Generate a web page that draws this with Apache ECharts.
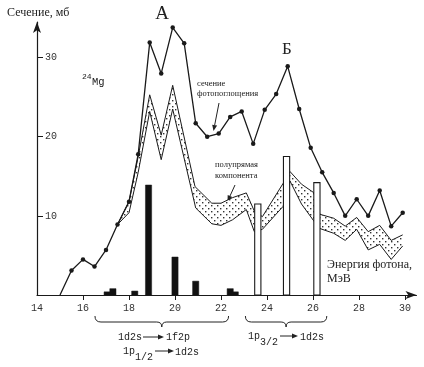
<!DOCTYPE html>
<html><head><meta charset="utf-8">
<script src="https://cdn.jsdelivr.net/npm/echarts@6/dist/echarts.min.js"></script>
<style>html,body{margin:0;padding:0;background:#fff}#c{width:424px;height:367px}</style>
</head><body><div id="c"></div>
<script>
// ---- data ----
const xTicks = [14, 16, 18, 20, 22, 24, 26, 28, 30];
const yTicks = [10, 20, 30];
// сечение фотопоглощения (мб) vs энергия фотона (МэВ)
const photoE = [15.0, 15.5, 16.0, 16.5, 17.0, 17.5, 18.0, 18.4, 18.9, 19.4, 19.9, 20.4, 20.9, 21.4, 21.9, 22.4, 22.9, 23.4, 23.9, 24.4, 24.9, 25.4, 25.9, 26.4, 26.9, 27.4, 27.9, 28.4, 28.9, 29.4, 29.9];
const photoV = [0, 3.1, 4.5, 3.6, 5.7, 8.9, 11.8, 17.8, 31.9, 28.0, 33.8, 31.8, 21.7, 20.0, 20.4, 22.5, 23.2, 19.1, 23.4, 25.4, 28.9, 23.5, 18.6, 15.5, 12.9, 10.0, 12.1, 10.0, 13.2, 8.7, 10.4];
// полупрямая компонента: upper and lower edges of band
const bandUpperE = [17.5, 18.0, 18.4, 18.9, 19.4, 19.9, 20.87, 21.6, 22.0, 22.5, 23.1, 23.45, 23.8, 24.7, 25.0, 25.5, 26.05, 26.3, 26.9, 27.4, 27.9, 28.4, 28.9, 29.4, 29.9];
const bandUpper  = [8.9, 11.8, 17.5, 25.3, 20.2, 26.5, 13.7, 11.6, 11.6, 12.3, 12.9, 10.6, 9.9, 14.1, 15.6, 14.0, 12.9, 10.2, 9.7, 8.7, 9.8, 8.0, 8.8, 6.9, 7.6];
const bandLowerE = [17.5, 18.0, 18.4, 18.9, 19.4, 19.9, 20.9, 21.6, 22.0, 22.5, 23.1, 23.45, 23.8, 24.7, 25.0, 25.5, 26.05, 26.3, 26.9, 27.4, 27.9, 28.4, 28.9, 29.4, 29.9];
const bandLower  = [8.9, 10.4, 15.5, 23.2, 17.1, 23.5, 11.0, 9.0, 8.8, 9.5, 10.8, 8.0, 8.3, 11.2, 14.4, 11.5, 9.3, 8.4, 7.8, 6.9, 8.3, 5.7, 6.4, 4.5, 6.2];
// transitions 1d2s->1f2p, 1p1/2->1d2s (filled bars)
const solidBarE = [17.05, 17.3, 18.25, 18.85, 20.0, 20.9, 22.4, 22.62];
const solidBarV = [0.4, 0.8, 0.5, 13.9, 4.8, 1.75, 0.8, 0.4];
// transitions 1p3/2->1d2s (open bars)
const openBarE = [23.6, 24.85, 26.17];
const openBarV = [11.5, 17.5, 14.2];
// brace ranges (MeV)
const braceRanges = [[16.52, 22.33], [23.06, 26.6]];

const BAR_W = 0.27;
const INK = '#1a1a1a';

// dotted pattern
const pat = document.createElement('canvas');
pat.width = 6; pat.height = 6;
(function(){const g = pat.getContext('2d'); g.fillStyle = '#fff'; g.fillRect(0,0,6,6);
 g.fillStyle = '#333'; g.fillRect(1,1,1.4,1.4); g.fillRect(4,4,1.4,1.4);})();

const chart = echarts.init(document.getElementById('c'), null, {renderer: 'canvas'});

function barRender(E, V, fill) {
  return function (params, api) {
    const i = params.dataIndex;
    const p1 = api.coord([E[i] - BAR_W / 2, V[i]]);
    const p2 = api.coord([E[i] + BAR_W / 2, 0]);
    return {type: 'rect', shape: {x: p1[0], y: p1[1], width: p2[0] - p1[0], height: p2[1] - p1[1]},
      style: {fill: fill, stroke: INK, lineWidth: fill === '#fff' ? 1.1 : 0.5}};
  };
}

chart.setOption({
  animation: false,
  grid: {left: 37, right: 7.5, top: 22, bottom: 72},
  xAxis: {
    type: 'value', min: 14, max: 30.5,
    axisLine: {show: true, symbol: ['none', 'arrow'], symbolSize: [6, 11], lineStyle: {color: INK, width: 1.2}},
    axisTick: {show: true, customValues: xTicks.slice(1), length: 5, lineStyle: {color: INK}},
    axisLabel: {customValues: xTicks, margin: 8, color: '#333', fontFamily: 'Liberation Mono', fontSize: 10},
    splitLine: {show: false}
  },
  yAxis: {
    type: 'value', min: 0, max: 34.5,
    axisLine: {show: true, symbol: ['none', 'arrow'], symbolSize: [6, 11], lineStyle: {color: INK, width: 1.2}},
    axisTick: {show: true, inside: true, customValues: yTicks, length: 6, lineStyle: {color: INK}},
    axisLabel: {inside: true, customValues: yTicks, margin: 8, color: '#333', fontFamily: 'Liberation Mono', fontSize: 10},
    splitLine: {show: false}
  },
  series: [
    {
      type: 'custom', z: 2, silent: true, data: [[20, 10]], clip: false,
      renderItem: function (params, api) {
        const up = bandUpperE.map((e, i) => api.coord([e, bandUpper[i]]));
        const lo = bandLowerE.map((e, i) => api.coord([e, bandLower[i]]));
        const poly = up.concat(lo.slice().reverse());
        return {type: 'group', children: [
          {type: 'polygon', shape: {points: poly}, style: {fill: {image: pat, repeat: 'repeat'}, stroke: null}},
          {type: 'polyline', shape: {points: up}, style: {fill: null, stroke: INK, lineWidth: 1}},
          {type: 'polyline', shape: {points: lo}, style: {fill: null, stroke: INK, lineWidth: 1}}
        ]};
      }
    },
    {
      type: 'line', z: 3, silent: true,
      data: photoE.map((e, i) => i === 0 ? {value: [e, photoV[i]], symbol: 'none'} : [e, photoV[i]]),
      symbol: 'circle', symbolSize: 4.5, showAllSymbol: true,
      itemStyle: {color: INK}, lineStyle: {color: INK, width: 1.3}
    },
    {
      type: 'custom', z: 4, silent: true, clip: false,
      data: solidBarE.map((e, i) => [e, solidBarV[i]]),
      renderItem: barRender(solidBarE, solidBarV, '#111')
    },
    {
      type: 'custom', z: 4, silent: true, clip: false,
      data: openBarE.map((e, i) => [e, openBarV[i]]),
      renderItem: barRender(openBarE, openBarV, '#fff')
    }
  ]
});

// ---- annotations ----
const serif = 'Liberation Serif';
const mono = 'Liberation Mono';
function txt(x, y, s, size, font, opts) {
  return {type: 'text', x: x, y: y, silent: true,
    style: Object.assign({text: s, fontSize: size, fontFamily: font, fill: '#222', verticalAlign: 'middle'}, (opts || {}))};
}
function arrow(x1, y1, x2, y2, head, hw) {
  const dx = x2 - x1, dy = y2 - y1, L = Math.hypot(dx, dy), ux = dx / L, uy = dy / L;
  const bx = x2 - ux * head, by = y2 - uy * head;
  return [
    {type: 'line', silent: true, shape: {x1: x1, y1: y1, x2: bx, y2: by}, style: {stroke: '#222', lineWidth: 1}},
    {type: 'polygon', silent: true, shape: {points: [[x2, y2], [bx - uy * hw, by + ux * hw], [bx + uy * hw, by - ux * hw]]}, style: {fill: '#222'}}
  ];
}
function brace(x1, x2, y0) {
  const xm = (x1 + x2) / 2, y1 = y0 + 6, y2 = y0 + 11;
  const st = {fill: null, stroke: '#222', lineWidth: 1};
  const bz = (a, b, c, d, e, f) => ({type: 'bezierCurve', silent: true, shape: {x1: a, y1: b, cpx1: c, cpy1: d, x2: e, y2: f}, style: st});
  const ln = (a, b, c, d) => ({type: 'line', silent: true, shape: {x1: a, y1: b, x2: c, y2: d}, style: st});
  return [
    bz(x1, y0, x1, y1, x1 + 6, y1),
    ln(x1 + 6, y1, xm - 5, y1),
    bz(xm - 5, y1, xm, y1, xm, y2),
    bz(xm, y2, xm, y1, xm + 5, y1),
    ln(xm + 5, y1, x2 - 6, y1),
    bz(x2 - 6, y1, x2, y1, x2, y0)
  ];
}

const g = [];
g.push(txt(7, 13, 'Сечение, мб', 12, serif));
g.push(txt(162, 14, 'А', 19, serif, {align: 'center'}));
g.push(txt(287, 50, 'Б', 17, serif, {align: 'center'}));
g.push(txt(82, 76.5, '24', 8, mono));
g.push(txt(92, 82, 'Mg', 10.5, mono));
g.push(txt(197, 84, 'сечение', 8.5, serif));
g.push(txt(197, 94, 'фотопоглощения', 8.5, serif));
g.push(...arrow(219, 103, 213.5, 131, 6, 2.5));
g.push(txt(215, 165, 'полупрямая', 8.5, serif));
g.push(txt(215, 175.5, 'компонента', 8.5, serif));
g.push(...arrow(235, 185, 227.5, 201.5, 6, 2.5));
g.push(txt(327, 265, 'Энергия фотона,', 12, serif));
g.push(txt(327, 279, 'МэВ', 12, serif));

braceRanges.forEach(r => {
  const a = chart.convertToPixel({gridIndex: 0}, [r[0], 0]);
  const b = chart.convertToPixel({gridIndex: 0}, [r[1], 0]);
  g.push(...brace(a[0], b[0], 316));
});
// left brace labels
g.push(txt(118, 337, '1d2s', 10, mono));
g.push(...arrow(143, 337, 164, 337, 6, 2.5));
g.push(txt(166, 337, '1f2p', 10, mono));
g.push(txt(123, 351, '1p', 10, mono));
g.push(txt(135, 357, '1/2', 10, mono));
g.push(...arrow(155, 351, 174, 351, 6, 2.5));
g.push(txt(175, 352, '1d2s', 10, mono));
// right brace label
g.push(txt(248, 336, '1p', 10, mono));
g.push(txt(260, 342, '3/2', 10, mono));
g.push(...arrow(280, 336, 298, 336, 6, 2.5));
g.push(txt(300, 337, '1d2s', 10, mono));

chart.setOption({graphic: {elements: g}});
</script>
</body></html>
